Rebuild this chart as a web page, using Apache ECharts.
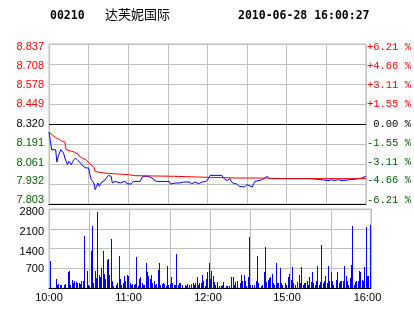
<!DOCTYPE html>
<html><head><meta charset="utf-8">
<script src="https://cdn.jsdelivr.net/npm/echarts@6/dist/echarts.min.js"></script>
<style>html,body{margin:0;padding:0;background:#fff}#c{width:414px;height:314px}</style>
</head><body><div id="c"></div>
<script>
const stockCode = '00210';
const stockName = '达芙妮国际';
const stamp = '2010-06-28 16:00:27';
const prevClose = 8.320;
const priceTickLabels = ['7.803','7.932','8.061','8.191','8.320','8.449','8.578','8.708','8.837'];
const pctTickLabels = ['-6.21 %','-4.66 %','-3.11 %','-1.55 %',' 0.00 %','+1.55 %','+3.11 %','+4.66 %','+6.21 %'];
const volTickLabels = ['', '700', '1400', '2100', '2800'];
const timeTickLabels = {0:'10:00', 60:'11:00', 120:'12:00', 180:'15:00', 240:'16:00'};

// [minute index, price]
const pricePoints = [
[0,8.268],[1,8.212],[2,8.154],[5,8.154],[6,8.074],[7,8.111],[8,8.122],[9,8.154],[10,8.154],[11,8.133],
[12,8.100],[13,8.089],[14,8.057],[15,8.079],[16,8.068],[17,8.057],[18,8.079],[19,8.074],[20,8.100],[21,8.089],
[22,8.083],[23,8.079],[24,8.068],[25,8.057],[26,8.046],[27,8.053],[28,8.036],[29,8.040],[30,8.036],[31,7.993],
[32,7.960],[33,7.949],[34,7.939],[35,7.896],[36,7.917],[37,7.939],[38,7.917],[39,7.932],[40,7.945],[41,7.949],
[42,7.954],[43,7.967],[44,7.975],[45,7.988],[46,7.993],[47,7.982],[48,7.939],[49,7.939],[50,7.949],[51,7.939],
[54,7.939],[55,7.949],[56,7.945],[58,7.949],[59,7.934],[60,7.939],[62,7.932],[64,7.949],[69,7.949],[71,7.982],
[72,7.988],[73,7.982],[74,7.971],[75,7.982],[77,7.975],[78,7.982],[79,7.967],[80,7.954],[82,7.949],[91,7.949],
[92,7.932],[93,7.939],[96,7.939],[97,7.945],[99,7.939],[100,7.939],[102,7.945],[103,7.934],[106,7.945],[108,7.934],
[111,7.945],[113,7.934],[116,7.945],[117,7.939],[119,7.949],[121,7.971],[122,7.988],[131,7.988],[132,7.971],[133,7.960],
[135,7.954],[136,7.960],[137,7.967],[138,7.949],[140,7.934],[142,7.934],[144,7.917],[148,7.913],[150,7.928],[151,7.917],
[154,7.913],[155,7.934],[156,7.949],[159,7.954],[161,7.960],[163,7.967],[164,7.971],[165,7.982],[166,7.982],[167,7.967],
[180,7.967],[181,7.971],[183,7.967],[196,7.967],[197,7.971],[198,7.967],[208,7.958],[212,7.954],[214,7.960],[216,7.954],
[219,7.960],[222,7.954],[223,7.965],[235,7.967],[237,7.971],[238,7.975],[240,7.982]
];
const avgPoints = [
[0,8.268],[3,8.246],[5,8.233],[6,8.225],[8,8.219],[10,8.208],[12,8.204],[13,8.154],[14,8.148],[19,8.139],
[22,8.126],[23,8.111],[25,8.100],[28,8.089],[29,8.079],[31,8.062],[32,8.053],[34,8.040],[35,8.014],[37,8.010],
[41,8.004],[51,7.997],[60,7.993],[65,7.986],[95,7.982],[96,7.978],[122,7.975],[143,7.971],[165,7.971],[170,7.967],
[240,7.967]
];
// [minute index, volume]
const volumes = [
[0,940],[1,80],[5,330],[6,117],[7,140],[8,117],[9,117],[11,117],[12,140],[14,550],[15,610],[16,117],[17,280],[18,177],
[19,250],[20,200],[21,177],[22,177],[23,140],[24,260],[25,235],[26,1830],[28,610],[29,117],[30,80],[31,1300],[32,2200],
[33,177],[34,590],[35,350],[36,2680],[37,470],[38,375],[39,700],[40,1300],[41,500],[42,330],[43,1000],[44,1030],[45,470],
[46,1750],[47,235],[48,80],[50,117],[51,177],[52,1120],[53,330],[54,117],[55,177],[56,420],[57,260],[58,450],[59,420],
[60,177],[61,117],[62,140],[63,117],[64,140],[65,1090],[66,80],[67,330],[68,400],[69,177],[70,117],[71,117],[72,900],
[73,550],[74,410],[75,330],[76,470],[77,177],[78,235],[79,117],[80,140],[81,640],[82,870],[83,117],[84,140],[85,177],
[86,140],[87,80],[88,790],[89,117],[90,140],[91,380],[92,177],[93,117],[94,117],[95,1190],[96,117],[97,177],[98,177],
[99,117],[101,117],[102,80],[103,140],[104,117],[106,140],[107,177],[108,117],[109,177],[110,380],[111,117],[112,177],
[113,177],[114,450],[115,235],[116,80],[117,330],[118,550],[119,870],[120,330],[121,610],[122,435],[123,200],[124,117],
[125,200],[127,80],[128,80],[129,117],[130,200],[132,80],[133,80],[134,80],[136,380],[137,380],[138,117],[139,200],
[140,260],[142,177],[143,450],[144,260],[145,450],[146,260],[147,80],[148,385],[149,1790],[150,117],[151,117],[153,117],
[154,235],[155,1150],[156,177],[158,80],[159,117],[160,550],[161,1470],[162,200],[163,270],[164,355],[165,385],[166,500],
[167,177],[168,117],[169,885],[170,177],[171,177],[172,700],[173,177],[174,117],[176,177],[177,117],[178,385],[179,500],
[180,295],[181,730],[182,177],[183,117],[185,200],[186,470],[187,177],[188,740],[189,117],[190,177],[191,177],[192,235],
[193,117],[194,385],[195,200],[196,580],[197,177],[198,117],[199,235],[200,790],[201,117],[202,200],[203,1510],[204,177],
[205,235],[206,435],[207,177],[208,790],[209,235],[210,580],[211,235],[212,117],[214,295],[215,580],[216,177],[217,235],
[218,235],[219,235],[220,790],[221,410],[222,235],[223,117],[224,355],[225,820],[226,2200],[227,117],[228,200],[229,260],
[230,235],[231,610],[232,550],[233,295],[234,260],[235,730],[236,2160],[237,435],[238,410],[239,550],[240,2240]
];

// ---- styling / layout helpers (not data) ----
const RANGE = 0.517, STEP = 0.12925;
const idxOf = v => Math.round((Number(v) + RANGE) / STEP);
const GRID = '#c0c0c0';
const RED = '#ff0000', GREEN = '#006000', BLACK = '#000000';
const colorFor = i => i > 4 ? RED : (i === 4 ? BLACK : GREEN);
// vertical offset (px, + = down) of each label relative to its grid line
const priceShift = [-4, -3.3, -1.5, -0.6, 0, 0, 1.2, 2.4, 3];
const volShift = [0, 0.7, 3, 3, 3.4];
const timeShift = {0:0, 60:-1, 120:-2, 180:-3.5, 240:-3.5};

function vPad(s) { return s >= 0 ? [2*s, 0, 0, 0] : [0, 0, -2*s, 0]; }
function makeRich(prefix, n, shifts, font, size, colorFn) {
  const r = {};
  for (let i = 0; i < n; i++) {
    r[prefix + i] = {fontFamily: font, fontSize: size, color: colorFn(i), padding: vPad(shifts[i])};
  }
  return r;
}
const leftRich = makeRich('p', 9, priceShift, 'Liberation Sans', 11, colorFor);
const rightRich = makeRich('q', 9, priceShift, 'Liberation Mono', 10.5, colorFor);
const volRich = makeRich('v', 5, volShift, 'Liberation Sans', 11, () => BLACK);
const timeRich = {};
Object.keys(timeShift).forEach(k => {
  const s = timeShift[k];
  timeRich['t' + k] = {fontFamily:'Liberation Sans', fontSize:11, color:BLACK,
    padding: s < 0 ? [0, -2*s, 0, 0] : [0, 0, 0, 2*s]};
});

const chart = echarts.init(document.getElementById('c'), null, {renderer:'canvas'});
chart.setOption({
  animation: false,
  backgroundColor: '#ffffff',
  graphic: [
    {type:'text', left:50, top:10, style:{text:stockCode, font:'bold 11.5px "DejaVu Sans Mono"', fill:'#000'}},
    {type:'text', left:105, top:8, style:{text:stockName, font:'13px "Noto Sans CJK SC"', fill:'#000'}},
    {type:'text', left:238, top:10, style:{text:stamp, font:'bold 11.5px "DejaVu Sans Mono"', fill:'#000'}}
  ],
  grid: [
    {left:49, right:43, top:44, height:160, show:true, borderColor:GRID, borderWidth:1},
    {left:49, right:43, top:209, height:79, show:true, borderColor:GRID, borderWidth:1}
  ],
  xAxis: [
    {type:'value', gridIndex:0, min:0, max:240, interval:30,
     axisLine:{show:true, onZero:false, lineStyle:{color:'#000', width:1}}, axisTick:{show:false}, axisLabel:{show:false},
     splitLine:{show:true, lineStyle:{color:GRID, width:1}}},
    {type:'value', gridIndex:1, min:0, max:240, interval:30,
     axisLine:{show:true, onZero:false, lineStyle:{color:'#000', width:1}}, axisTick:{show:false},
     axisLabel:{show:true, margin:4, color:'#000', fontFamily:'Liberation Sans', fontSize:11, rich: timeRich,
       formatter: v => timeTickLabels[v] ? '{t' + v + '|' + timeTickLabels[v] + '}' : ''},
     splitLine:{show:true, lineStyle:{color:GRID, width:1}}}
  ],
  yAxis: [
    {type:'value', gridIndex:0, position:'left', min:-RANGE, max:RANGE, interval:STEP,
     axisLine:{show:false}, axisTick:{show:false},
     splitLine:{show:true, lineStyle:{color:GRID, width:1}},
     axisLabel:{margin:5, fontFamily:'Liberation Sans', fontSize:11, rich: leftRich,
       formatter: v => { const i = idxOf(v); return '{p' + i + '|' + priceTickLabels[i] + '}'; }}},
    {type:'value', gridIndex:0, position:'right', min:-RANGE, max:RANGE, interval:STEP,
     axisLine:{show:false}, axisTick:{show:false}, splitLine:{show:false},
     axisLabel:{margin:1, fontFamily:'Liberation Mono', fontSize:10.5, align:'left', rich: rightRich,
       formatter: v => { const i = idxOf(v); return '{q' + i + '|' + pctTickLabels[i] + '}'; }}},
    {type:'value', gridIndex:1, min:0, max:2800, interval:700,
     axisLine:{show:false}, axisTick:{show:false},
     splitLine:{show:true, lineStyle:{color:GRID, width:1}},
     axisLabel:{margin:5, color:'#000', fontFamily:'Liberation Sans', fontSize:11, rich: volRich,
       formatter: v => { const i = Math.round(v/700); return volTickLabels[i] ? '{v' + i + '|' + volTickLabels[i] + '}' : ''; }}}
  ],
  series: [
    {type:'line', xAxisIndex:0, yAxisIndex:0, data: pricePoints.map(d => [d[0], d[1] - prevClose]),
     showSymbol:false, lineStyle:{color:'#0000ff', width:1}, itemStyle:{color:'#0000ff'},
     markLine:{silent:true, symbol:['none','none'], label:{show:false},
       lineStyle:{color:'#000', type:'solid', width:1}, data:[{yAxis:0}]}},
    {type:'line', xAxisIndex:0, yAxisIndex:0, data: avgPoints.map(d => [d[0], d[1] - prevClose]),
     showSymbol:false, lineStyle:{color:'#ff0000', width:1}, itemStyle:{color:'#ff0000'}},
    {type:'custom', xAxisIndex:1, yAxisIndex:2, data: volumes,
     renderItem: (params, api) => {
       const top = api.coord([api.value(0), api.value(1)]);
       const base = api.coord([api.value(0), 0]);
       const x = Math.min(Math.max(Math.round(top[0]), 50), 370);
       const y = Math.round(top[1]);
       return {type:'rect', shape:{x: x, y: y, width: 1, height: Math.round(base[1]) - y},
               style:{fill:'#0000ff'}};
     }}
  ]
});
</script></body></html>
